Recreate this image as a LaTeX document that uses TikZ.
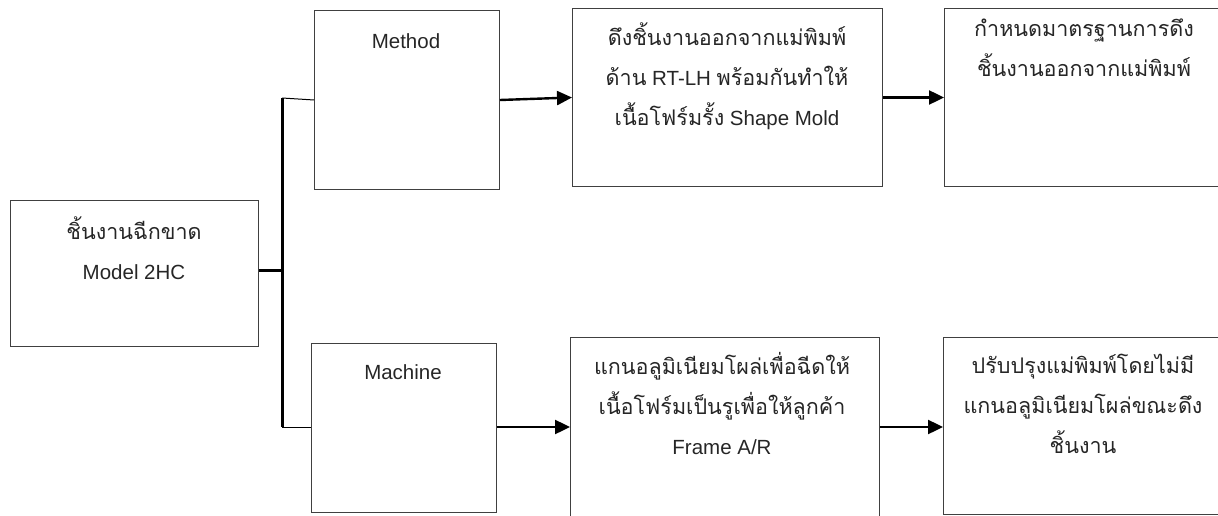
\documentclass[tikz,border=0pt]{standalone}
\usepackage{fontspec}
\setmainfont{Liberation Sans}
\newfontfamily\thaifont[Script=Thai,Scale=1.05]{Loma}
\usetikzlibrary{arrows.meta}
\newcommand{\thtxt}[1]{{\thaifont #1}}
\begin{document}
\begin{tikzpicture}[x=1pt,y=-1pt,
  box/.style={draw=black!75, line width=1pt, inner sep=0pt, anchor=north west},
  lbl/.style={text=black!85, font=\fontsize{20.5}{40}\selectfont, align=center,
              inner sep=0pt, anchor=center},
  link/.style={line width=2.4pt, -{Triangle[length=15pt,width=14pt]}},
  trunk/.style={line width=3pt},
  branch/.style={line width=1pt},
]
\useasboundingbox (0,0) rectangle (1218,516);
\clip (0,0) rectangle (1218,516);

% boxes
\node[box, minimum width=248pt, minimum height=146pt] (src)  at (10,200)  {};
\node[box, minimum width=185pt, minimum height=179pt] (meth) at (314,10)  {};
\node[box, minimum width=310pt, minimum height=178pt] (b2)   at (572,8)   {};
\node[box, minimum width=290pt, minimum height=178pt] (b3)   at (944,8)   {};
\node[box, minimum width=185pt, minimum height=169pt] (mach) at (311,343) {};
\node[box, minimum width=309pt, minimum height=180pt] (b5)   at (570,337) {};
\node[box, minimum width=290pt, minimum height=177pt] (b6)   at (943,337) {};

% labels
\node[lbl] (src-t)  at (134,248) {\thtxt{ชิ้นงานฉีกขาด}\\Model 2HC};
\node[lbl] (meth-t) at (406,41)  {Method};
\node[lbl] (b2-t)   at (727,76)  {\thtxt{ดึงชิ้นงานออกจากแม่พิมพ์}\\
                                  \thtxt{ด้าน} RT-LH \thtxt{พร้อมกันทำให้}\\
                                  \thtxt{เนื้อโฟร์มรั้ง} Shape Mold};
\node[lbl] (b3-t)   at (1084,48) {\thtxt{กำหนดมาตรฐานการดึง}\\\thtxt{ชิ้นงานออกจากแม่พิมพ์}};
\node[lbl] (mach-t) at (403,372) {Machine};
\node[lbl] (b5-t)   at (722,404) {\thtxt{แกนอลูมิเนียมโผล่เพื่อฉีดให้}\\
                                  \thtxt{เนื้อโฟร์มเป็นรูเพื่อให้ลูกค้า}\\
                                  Frame A/R};
\node[lbl] (b6-t)   at (1083,404) {\thtxt{ปรับปรุงแม่พิมพ์โดยไม่มี}\\
                                   \thtxt{แกนอลูมิเนียมโผล่ขณะดึง}\\
                                   \thtxt{ชิ้นงาน}};

% tree junction
\coordinate (jmid) at (282,270);
\coordinate (jtop) at (282,98);
\coordinate (jbot) at (282,427);
\draw[trunk] (src.east |- jmid) -- (jmid);
\draw[trunk] (jtop) -- (jbot);
\draw[branch] (jtop) -- (meth.west);
\draw[branch] (jbot) -- (mach.west |- jbot);

% arrows
\draw[link] (meth.east) -- (b2.west);
\draw[link] (b2.east) -- (b3.west);
\draw[link] (mach.east |- jbot) -- (b5.west |- jbot);
\draw[link] (b5.east |- jbot) -- (b6.west |- jbot);
\end{tikzpicture}
\end{document}
